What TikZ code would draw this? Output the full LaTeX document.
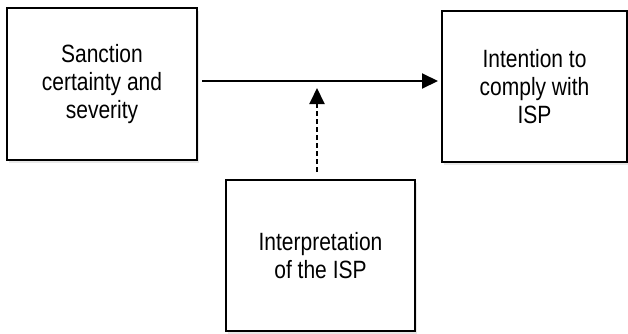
\documentclass[tikz,border=0pt]{standalone}
\usepackage{fontspec}
\setmainfont{Liberation Sans}[FakeStretch=0.84]
\usetikzlibrary{arrows.meta,shadows}
\begin{document}
\begin{tikzpicture}[x=1pt, y=1pt,
        box/.style={draw=black, line width=2pt, fill=white, align=center,
            font=\fontsize{25}{28}\selectfont,
            drop shadow={shadow xshift=2pt, shadow yshift=-3pt, opacity=.18}},
        flow/.style={line width=2pt, -{Triangle[length=16pt, width=15pt]}}]
        \useasboundingbox (0,0) rectangle (628,-333);
        \node[box, minimum width=190pt, minimum height=152pt] (S) at (102,-84) {Sanction\\certainty and\\severity};
        \node[box, minimum width=185pt, minimum height=151pt] (I) at (534.5,-86.5) {Intention to\\comply with\\ISP};
        \node[box, minimum width=189pt, minimum height=151pt] (P) at (320.5,-255.5) {Interpretation\\of the ISP};
        \coordinate (hit) at (317,-88);
        \draw[flow] ([shift={(4,3)}]S.east) -- ([shift={(-3,5.5)}]I.west);
        \draw[flow, dashed, dash pattern=on 5pt off 3pt] ([shift={(-3.5,7)}]P.north) -- (hit);
    \end{tikzpicture}
\end{document}
